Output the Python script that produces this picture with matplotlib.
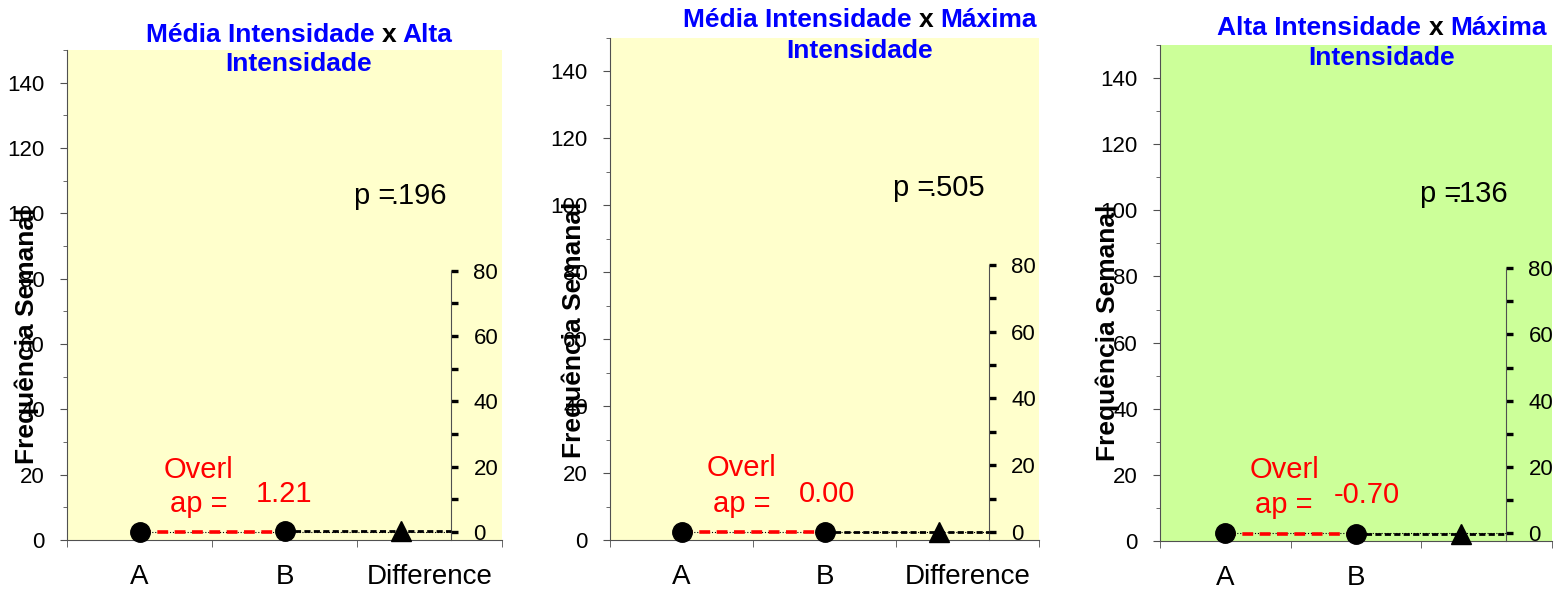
import matplotlib
matplotlib.use('Agg')
import matplotlib.pyplot as plt
import numpy as np

plt.rcParams['font.family'] = ['Liberation Sans', 'DejaVu Sans']

W, H = 1557, 595

# data (weekly frequency means for each pair of groups)
pairs = [('Média Intensidade', 'Alta Intensidade'),
         ('Média Intensidade', 'Máxima Intensidade'),
         ('Alta Intensidade', 'Máxima Intensidade')]
cat_labels = [['A', 'B', 'Difference'],
              ['A', 'B', 'Difference'],
              ['A', 'B', '']]
mean_a = [2.4, 2.3, 2.45]
mean_b = [2.7, 2.25, 2.15]
overlap = ['1.21', '0.00', '-0.70']
p_vals = ['.196', '.505', '.136']
bg_colors = ['#FFFFCC', '#FFFFCC', '#CCFF99']

# layout (pixels of the reference image)
axes_px = [(67, 50, 502, 540), (610, 38, 1039, 540), (1160, 45, 1552, 541)]
title_px = [(299, 42, 71), (860, 27, 58), (1382, 35, 65)]
ylabel_px = [(27, 336), (574, 330), (1108, 333)]
p_pos = [(1.48, 2.12, 103), (1.48, 2.12, 102.7), (1.49, 2.16, 102.4)]
ovl_pos = [(0.41, 1.0), (0.42, 1.02), (0.45, 1.08)]
DIFF_X = 1.8
RAXIS_X = 2.15
BLUE = '#0000FF'
SPINE = '#505050'

fig = plt.figure(figsize=(W / 100, H / 100), dpi=100)


def mixed_line(cx, y, parts, **kw):
    # draw a centred line of text made of differently coloured parts
    full = ''.join(s for s, c in parts)
    ref = fig.text(0, 0, full, **kw)
    texts = [fig.text(0, 1 - y / H, s.strip(), color=c, va='baseline', **kw) for s, c in parts]
    fig.canvas.draw()
    r = fig.canvas.get_renderer()
    total = ref.get_window_extent(r).width
    start = cx - total / 2
    prefix = ''
    for (s, c), t in zip(parts, texts):
        prefix += s
        tmp = fig.text(0, 0, prefix.rstrip(), **kw)
        pw = tmp.get_window_extent(r).width
        tmp.remove()
        w = t.get_window_extent(r).width
        t.set_x((start + pw - w) / W)
    ref.remove()


for i in range(3):
    x0, y0, x1, y1 = axes_px[i]
    ax = fig.add_axes([x0 / W, 1 - y1 / H, (x1 - x0) / W, (y1 - y0) / H])
    ax.set_facecolor(bg_colors[i])
    a, b = mean_a[i], mean_b[i]

    ax.set_xlim(-0.5, 2.5)
    ax.set_ylim(0, 150)
    for s in ['top', 'right']:
        ax.spines[s].set_visible(False)
    for s in ['left', 'bottom']:
        ax.spines[s].set_color(SPINE)

    ax.set_yticks(np.arange(0, 141, 20))
    ax.set_yticks(np.arange(10, 151, 20), minor=True)
    ax.tick_params(axis='y', which='major', length=5, color=SPINE, labelsize=16, pad=11)
    ax.tick_params(axis='y', which='minor', length=3, color=SPINE)
    ax.set_xticks([0, 1, 2])
    ax.set_xticklabels(cat_labels[i])
    ax.set_xticks([-0.5, 0.5, 1.5, 2.5], minor=True)
    ax.tick_params(axis='x', which='major', length=0, labelsize=20, pad=17)
    ax.tick_params(axis='x', which='minor', length=5, color=SPINE)

    # lines between means and the difference axis
    ax.hlines(a, 0, RAXIS_X, colors='black', linestyles=':', lw=0.8, zorder=3)
    ax.hlines(b, 1, RAXIS_X, colors='black', linestyles=(0, (2.2, 1.2)), lw=2, zorder=3)
    ax.hlines(min(a, b), 0, 1, colors='red', linestyles=(0, (3, 1.8)), lw=2.6, zorder=4)

    ax.plot([0, 1], [a, b], 'o', color='black', ms=14, ls='none', zorder=6, clip_on=False)
    ax.plot([DIFF_X], [b], '^', color='black', ms=14, zorder=6, clip_on=False)

    # difference axis, zero at mean of A
    sec = ax.secondary_yaxis((RAXIS_X + 0.5) / 3,
                             functions=(lambda y, a=a: y - a, lambda v, a=a: v + a))
    sec.yaxis.set_major_locator(matplotlib.ticker.FixedLocator([0, 20, 40, 60, 80]))
    sec.yaxis.set_minor_locator(matplotlib.ticker.FixedLocator([10, 30, 50, 70]))
    sec.yaxis.set_major_formatter(matplotlib.ticker.FormatStrFormatter('%d'))
    sec.spines['right'].set_bounds(-a, 80)
    sec.spines['right'].set_color(SPINE)
    sec.tick_params(which='both', direction='out', length=5, width=2.4, color='black',
                    labelsize=16, pad=11)

    # texts
    px, pr, py = p_pos[i]
    ax.text(px, py, 'p =', fontsize=21, ha='left', va='baseline')
    ax.text(pr, py, p_vals[i], fontsize=21, ha='right', va='baseline')
    ox, vx = ovl_pos[i]
    ax.text(ox, 19, 'Overl', color='red', fontsize=21, ha='center', va='baseline')
    ax.text(ox, 8.5, 'ap =', color='red', fontsize=21, ha='center', va='baseline')
    ax.text(vx, 11.5, overlap[i], color='red', fontsize=21, ha='center', va='baseline')

    lx, ly = ylabel_px[i]
    fig.text(lx / W, 1 - ly / H, 'Frequência Semanal', rotation=90, fontsize=19,
             fontweight='bold', ha='center', va='center', zorder=10)

    # title
    n1, n2 = pairs[i]
    first, rest = n2.split(' ', 1)
    cx, yb1, yb2 = title_px[i]
    mixed_line(cx, yb1, [(n1, BLUE), (' x ', 'black'), (first, BLUE)],
               fontsize=19, fontweight='bold')
    mixed_line(cx, yb2, [(rest, BLUE)], fontsize=19, fontweight='bold')

fig.savefig('out.png', dpi=100)
